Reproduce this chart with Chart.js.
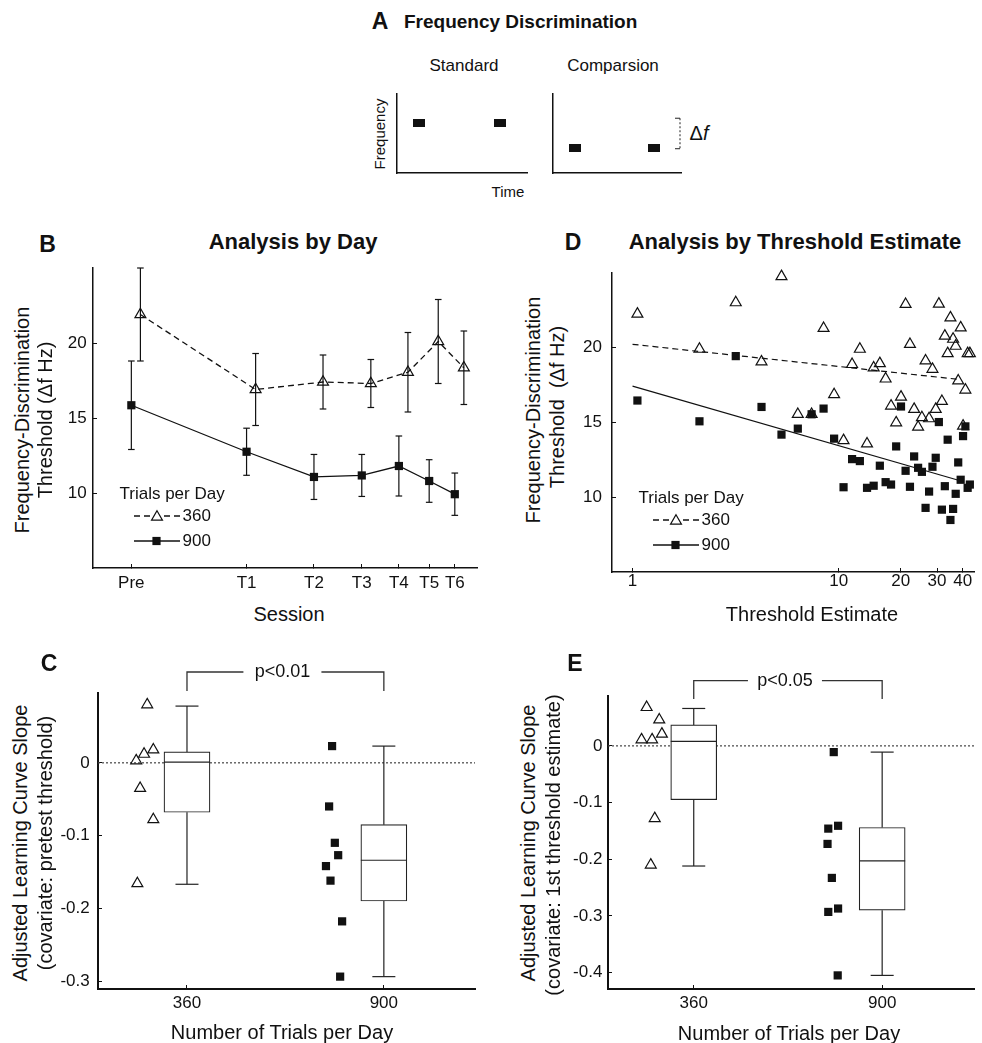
<!DOCTYPE html>
<html>
<head>
<meta charset="utf-8">
<script src="https://cdn.jsdelivr.net/npm/chart.js@4.4.1/dist/chart.umd.min.js"></script>
<style>
  body { margin: 0; background: #fff; }
  #fig { position: relative; width: 982px; height: 1043px; overflow: hidden;
         font-family: "Liberation Sans", Arial, Helvetica, sans-serif; color: #111; }
  #fig canvas { position: absolute; }
  .t { position: absolute; white-space: nowrap; line-height: 1; transform: translate(-50%, -50%); }
  .l { transform: translate(0, -50%); }
  .rot { transform: translate(-50%, -50%) rotate(-90deg); }
  .b { font-weight: bold; }
</style>
</head>
<body>
<div id="fig"></div>
<script>
// ---- data ----
// A: schematic of the task
var toneTimes = [1.7, 7.9];
var standardFreq = 6.3;
var comparisonFreq = 3.2;

// B: analysis by day
var sessionLabels = ['Pre', 'T1', 'T2', 'T3', 'T4', 'T5', 'T6'];
var sessionPos = [1, 2, 3, 4, 5, 6, 7];
var mean360 = [21.9, 16.9, 17.4, 17.3, 18.05, 20.1, 18.35];
var sem360 = [3.1, 2.4, 1.8, 1.6, 2.65, 2.8, 2.45];
var mean900 = [15.85, 12.75, 11.07, 11.17, 11.8, 10.8, 9.92];
var sem900 = [2.95, 1.57, 1.5, 1.4, 2.0, 1.42, 1.41];
var thresholdTicks = [10, 15, 20];

// D: analysis by threshold estimate
var estimateIndex = [1, 2, 3, 4, 5, 6, 7, 8, 9, 10, 11, 12, 13, 14, 15, 16, 17, 18, 19, 20,
  21, 22, 23, 24, 25, 26, 27, 28, 29, 30, 31, 32, 33, 34, 35, 36, 37, 38, 39, 40, 41];
var thr360 = [22.26, 19.91, 23.02, 19.06, 24.77, 15.55, 15.55, 21.3, 16.87, 13.8,
  18.89, 19.91, 13.58, 18.66, 18.95, 17.92, 16.11, 14.99, 16.71, 22.91,
  20.23, 15.89, 14.7, 15.33, 19.13, 15.26, 18.57, 15.89, 22.93, 16.42,
  20.79, 19.62, 22.01, 20.58, 20.11, 17.79, 21.34, 14.77, 17.18, 19.62, 19.62];
var thr900 = [16.47, 15.08, 19.44, 16.04, 14.19, 14.59, 15.55, 15.93, 13.92, 10.67,
  12.55, 12.42, 10.63, 10.77, 12.11, 11.01, 10.85, 13.4, 16.07, 11.77,
  10.7, 12.73, 11.97, 11.7, 9.29, 10.38, 12.04, 12.64, 15.03, 9.17,
  10.74, 13.85, 8.48, 9.22, 10.23, 12.33, 11.17, 14.09, 14.74, 10.63, 10.85];
var fitEnds = [1, 38.5];
var fit360 = [20.23, 17.88];
var fit900 = [17.43, 11.12];
var estimateTicks = [1, 10, 20, 30, 40];

// C / E: adjusted slopes
var trialGroups = ['360', '900'];
var groupPos = [1, 2];
var c360x = [0.798, 0.829, 0.782, 0.742, 0.762, 0.829, 0.748];
var c360y = [0.080, 0.018, 0.012, 0.003, -0.035, -0.078, -0.166];
var c900x = [1.737, 1.722, 1.751, 1.768, 1.706, 1.729, 1.788, 1.778];
var c900y = [0.023, -0.060, -0.110, -0.127, -0.142, -0.162, -0.218, -0.294];
var cQ1 = [-0.068, -0.190];
var cMed = [0.001, -0.134];
var cQ3 = [0.015, -0.085];
var cLo = [-0.167, -0.294];
var cHi = [0.078, 0.023];
var cTicks = [0, -0.1, -0.2, -0.3];
var cP = 'p<0.01';

var e360x = [0.750, 0.817, 0.831, 0.723, 0.779, 0.793, 0.772];
var e360y = [0.068, 0.046, 0.021, 0.011, 0.011, -0.128, -0.210];
var e900x = [1.743, 1.714, 1.766, 1.710, 1.733, 1.766, 1.714, 1.764];
var e900y = [-0.011, -0.146, -0.141, -0.173, -0.233, -0.287, -0.293, -0.405];
var eQ1 = [-0.095, -0.290];
var eMed = [0.008, -0.203];
var eQ3 = [0.037, -0.144];
var eLo = [-0.212, -0.405];
var eHi = [0.066, -0.011];
var eTicks = [0, -0.1, -0.2, -0.3, -0.4];
var eP = 'p<0.05';

// small horizontal nudge so the marker groups don't sit on the tick exactly
var markOffset = 1.056;
var SQ = 5.8, TRI = 6.3;

Chart.defaults.font.family = '"Liberation Sans", Arial, Helvetica, sans-serif';
Chart.defaults.font.size = 17;
Chart.defaults.color = '#111';

var fig = document.getElementById('fig');
var FONT = '"Liberation Sans", Arial, Helvetica, sans-serif';

function addText(html, x, y, size, cls) {
  var d = document.createElement('div');
  d.className = 't' + (cls ? ' ' + cls : '');
  d.style.left = x + 'px';
  d.style.top = y + 'px';
  d.style.fontSize = size + 'px';
  d.innerHTML = html;
  fig.appendChild(d);
}

// area = plot area on the page, m = room around it for ticks / extras
function makeCanvas(area, m) {
  var c = document.createElement('canvas');
  var w = area.r - area.l + m.l + m.r, h = area.b - area.t + m.t + m.b;
  c.width = w; c.height = h;
  c.style.left = (area.l - m.l) + 'px';
  c.style.top = (area.t - m.t) + 'px';
  c.style.width = w + 'px';
  c.style.height = h + 'px';
  fig.appendChild(c);
  return c;
}

function fixY(w) { return function (s) { s.width = w; s.paddingTop = 0; s.paddingBottom = 0; }; }
function fixX(h) { return function (s) { s.height = h; s.paddingLeft = 0; s.paddingRight = 0; }; }
function setTicks(list) { return function (s) { s.ticks = list.map(function (v) { return { value: v }; }); }; }

function axis(extra, pad, bw) {
  var o = {
    border: { display: true, color: '#111', width: bw },
    grid: { display: true, drawOnChartArea: false, drawTicks: true, tickLength: -4, color: '#111', lineWidth: 1 },
    ticks: { padding: pad, autoSkip: false, maxRotation: 0, minRotation: 0, color: '#111', font: { size: 17 } }
  };
  for (var k in extra) o[k] = extra[k];
  return o;
}

var baseOpts = {
  responsive: false, animation: false, events: [],
  plugins: { legend: { display: false }, tooltip: { enabled: false } }
};
function opts(padding, scales) {
  var o = JSON.parse(JSON.stringify(baseOpts));
  o.layout = { padding: padding };
  o.scales = scales;
  return o;
}

function line(ctx, x1, y1, x2, y2) {
  ctx.beginPath(); ctx.moveTo(x1, y1); ctx.lineTo(x2, y2); ctx.stroke();
}

// ---------- panel A ----------
var toneMark = document.createElement('canvas');
toneMark.width = 12; toneMark.height = 8;
var tg = toneMark.getContext('2d');
tg.fillStyle = '#111'; tg.fillRect(0, 0, 12, 8);

function toneChart(area, freq, extraPlugins) {
  var m = { l: 2, t: 2, r: 2, b: 2 };
  var cv = makeCanvas(area, m);
  new Chart(cv, {
    type: 'scatter',
    data: { datasets: [{
      data: toneTimes.map(function (t) { return { x: t, y: freq }; }),
      pointStyle: toneMark, pointRadius: 6
    }] },
    options: opts({ left: 0, top: m.t, right: m.r, bottom: 0 }, {
      x: { type: 'linear', min: 0, max: 10, border: { display: true, color: '#111', width: 1.5 },
           grid: { display: false }, ticks: { display: false }, afterFit: fixX(m.b) },
      y: { type: 'linear', min: 0, max: 10, border: { display: true, color: '#111', width: 1.5 },
           grid: { display: false }, ticks: { display: false }, afterFit: fixY(m.l) }
    }),
    plugins: extraPlugins || []
  });
}

var deltaBracket = {
  id: 'deltaBracket',
  afterDatasetsDraw: function (chart) {
    var ctx = chart.ctx, ys = chart.scales.y, a = chart.chartArea;
    var x = a.right - 1;
    var y1 = ys.getPixelForValue(standardFreq) - 5, y2 = ys.getPixelForValue(comparisonFreq) + 1;
    ctx.save();
    ctx.strokeStyle = '#222'; ctx.lineWidth = 1;
    ctx.setLineDash([2, 2]);
    line(ctx, x, y1, x, y2);
    ctx.setLineDash([]);
    line(ctx, x - 5, y1, x, y1);
    line(ctx, x - 5, y2, x, y2);
    ctx.restore();
  }
};

toneChart({ l: 392, t: 89, r: 532, b: 178 }, standardFreq);
toneChart({ l: 548, t: 89, r: 686, b: 178 }, comparisonFreq, [deltaBracket]);

// ---------- legend used by B and D ----------
function drawTrialLegend(chart) {
  var ctx = chart.ctx, a = chart.chartArea;
  var x0 = a.left, yb = a.bottom;
  ctx.save();
  ctx.font = '17px ' + FONT;
  ctx.fillStyle = '#111';
  ctx.textBaseline = 'middle';
  ctx.textAlign = 'left';
  ctx.fillText('Trials per Day', x0 + 26.5, yb - 74);
  ctx.strokeStyle = '#111';
  ctx.lineWidth = 1.3;
  var r1 = yb - 52, r2 = yb - 27;
  ctx.setLineDash([6, 4]);
  line(ctx, x0 + 41, r1, x0 + 87, r1);
  ctx.setLineDash([]);
  line(ctx, x0 + 41, r2, x0 + 87, r2);
  ctx.fillStyle = '#fff';
  ctx.lineWidth = 1.2;
  Chart.helpers.drawPoint(ctx, { pointStyle: 'triangle', radius: TRI, borderWidth: 1.2 }, x0 + 64, r1 + 1);
  ctx.fillStyle = '#111';
  Chart.helpers.drawPoint(ctx, { pointStyle: 'rect', radius: SQ, borderWidth: 0 }, x0 + 63.5, r2);
  ctx.fillText('360', x0 + 89.5, r1);
  ctx.fillText('900', x0 + 89.5, r2);
  ctx.restore();
}
var legendPlugin = { id: 'trialLegend', afterDraw: drawTrialLegend };

// ---------- panel B ----------
(function () {
  var area = { l: 93, t: 268, r: 477, b: 568 };
  var m = { l: 40, t: 10, r: 8, b: 35 };
  var cv = makeCanvas(area, m);
  var errorBars = {
    id: 'errorBars',
    beforeDatasetsDraw: function (chart) {
      var ctx = chart.ctx, xs = chart.scales.x, ys = chart.scales.y, a = chart.chartArea;
      ctx.save();
      ctx.beginPath(); ctx.rect(a.left, a.top - 1, a.right - a.left, a.bottom - a.top + 1); ctx.clip();
      ctx.strokeStyle = '#111'; ctx.lineWidth = 1.2;
      [[mean360, sem360, markOffset], [mean900, sem900, 1]].forEach(function (g) {
        for (var i = 0; i < sessionPos.length; i++) {
          var px = xs.getPixelForValue(sessionPos[i] * g[2]);
          var yt = ys.getPixelForValue(g[0][i] + g[1][i]);
          var yl = ys.getPixelForValue(g[0][i] - g[1][i]);
          line(ctx, px, yt, px, yl);
          line(ctx, px - 3.3, yt, px + 3.3, yt);
          line(ctx, px - 3.3, yl, px + 3.3, yl);
        }
      });
      ctx.restore();
    }
  };
  new Chart(cv, {
    type: 'line',
    data: { datasets: [
      { data: sessionPos.map(function (s, i) { return { x: s, y: mean900[i] }; }),
        borderColor: '#111', borderWidth: 1.3, tension: 0, fill: false, clip: false,
        pointStyle: 'rect', pointRadius: SQ, pointBackgroundColor: '#111', pointBorderWidth: 0 },
      { data: sessionPos.map(function (s, i) { return { x: s * markOffset, y: mean360[i] }; }),
        borderColor: '#111', borderWidth: 1.3, borderDash: [6, 4], tension: 0, fill: false, clip: false,
        pointStyle: 'triangle', pointRadius: TRI, pointBackgroundColor: 'rgba(0,0,0,0)',
        pointBorderColor: '#111', pointBorderWidth: 1.2 }
    ] },
    options: opts({ left: 0, top: m.t, right: m.r, bottom: 0 }, {
      x: axis({ type: 'logarithmic', min: 0.794, max: 8, afterBuildTicks: setTicks(sessionPos),
                afterFit: fixX(m.b) }, 8.8, 1.5),
      y: axis({ type: 'linear', min: 5, max: 25, afterBuildTicks: setTicks(thresholdTicks),
                afterFit: fixY(m.l) }, 10.3, 1.5)
    }),
    plugins: [errorBars, legendPlugin]
  });
})();

// ---------- panel D ----------
(function () {
  var area = { l: 612, t: 273, r: 982, b: 572 };
  var m = { l: 40, t: 10, r: 0, b: 35 };
  var cv = makeCanvas(area, m);
  new Chart(cv, {
    type: 'line',
    data: { datasets: [
      { data: estimateIndex.map(function (k, i) { return { x: k * markOffset, y: thr900[i] }; }),
        showLine: false, clip: false, pointStyle: 'rect', pointRadius: SQ, pointBackgroundColor: '#111', pointBorderWidth: 0 },
      { data: estimateIndex.map(function (k, i) { return { x: k * markOffset, y: thr360[i] }; }),
        showLine: false, clip: false, pointStyle: 'triangle', pointRadius: TRI, pointBackgroundColor: 'rgba(0,0,0,0)',
        pointBorderColor: '#111', pointBorderWidth: 1.2 },
      { data: fitEnds.map(function (x, i) { return { x: x, y: fit360[i] }; }),
        borderColor: '#111', borderWidth: 1.2, borderDash: [6, 4], pointRadius: 0 },
      { data: fitEnds.map(function (x, i) { return { x: x, y: fit900[i] }; }),
        borderColor: '#111', borderWidth: 1.2, pointRadius: 0 }
    ] },
    options: opts({ left: 0, top: m.t, right: m.r, bottom: 0 }, {
      x: axis({ type: 'logarithmic', min: 0.795, max: 45.6, afterBuildTicks: setTicks(estimateTicks),
                afterFit: fixX(m.b) }, 2.8, 1.5),
      y: axis({ type: 'linear', min: 5, max: 25, afterBuildTicks: setTicks(thresholdTicks),
                afterFit: fixY(m.l) }, 14, 1.5)
    }),
    plugins: [legendPlugin]
  });
})();

// tick label callbacks need functions, so set them after the JSON copy
Chart.helpers.each(Chart.instances, function (ch) {
  var x = ch.options.scales.x;
  if (x.type === 'logarithmic' && x.max === 8) {
    x.ticks.callback = function (v, i) { return sessionLabels[i]; };
  } else if (x.type === 'logarithmic') {
    x.ticks.callback = function (v) { return String(v); };
  }
  if (ch.options.scales.y.min === 5) {
    ch.options.scales.y.ticks.callback = function (v) { return String(v); };
  }
  ch.update();
});

// ---------- panels C and E ----------
function boxChart(cfg) {
  var m = { l: 50, t: 40, r: cfg.area.r >= 982 ? 0 : 8, b: 35 };
  var cv = makeCanvas(cfg.area, m);
  var extras = {
    id: 'boxExtras',
    beforeDatasetsDraw: function (chart) {
      var ctx = chart.ctx, ys = chart.scales.y, a = chart.chartArea;
      var y0 = ys.getPixelForValue(0);
      ctx.save();
      ctx.strokeStyle = '#444'; ctx.lineWidth = 1.2; ctx.setLineDash([2, 2]);
      line(ctx, a.left, y0, a.right, y0);
      ctx.restore();
    },
    afterDatasetsDraw: function (chart) {
      var ctx = chart.ctx, xs = chart.scales.x, ys = chart.scales.y, a = chart.chartArea;
      ctx.save();
      ctx.strokeStyle = '#222'; ctx.lineWidth = 1.2;
      for (var i = 0; i < groupPos.length; i++) {
        var px = xs.getPixelForValue(groupPos[i]);
        var q1 = ys.getPixelForValue(cfg.q1[i]), q3 = ys.getPixelForValue(cfg.q3[i]);
        var lo = ys.getPixelForValue(cfg.lo[i]), hi = ys.getPixelForValue(cfg.hi[i]);
        var md = ys.getPixelForValue(cfg.med[i]);
        line(ctx, px - 23, md, px + 23, md);
        line(ctx, px, q3, px, hi);
        line(ctx, px, q1, px, lo);
        line(ctx, px - 11.5, hi, px + 11.5, hi);
        line(ctx, px - 11.5, lo, px + 11.5, lo);
      }
      // significance bracket
      var xa = xs.getPixelForValue(groupPos[0]), xb = xs.getPixelForValue(groupPos[1]);
      var yBr = a.top - cfg.brUp, yEnd = yBr + cfg.brDrop, mid = (xa + xb) / 2 - 1;
      ctx.strokeStyle = '#333'; ctx.lineWidth = 1.3;
      ctx.beginPath();
      ctx.moveTo(xa, yEnd); ctx.lineTo(xa, yBr); ctx.lineTo(mid - cfg.gap, yBr);
      ctx.moveTo(mid + cfg.gap - 4, yBr); ctx.lineTo(xb, yBr); ctx.lineTo(xb, yEnd);
      ctx.stroke();
      ctx.font = '18px ' + FONT;
      ctx.fillStyle = '#111'; ctx.textAlign = 'center'; ctx.textBaseline = 'middle';
      ctx.fillText(cfg.p, mid - 2, yBr);
      ctx.restore();
    }
  };
  new Chart(cv, {
    type: 'bar',
    data: { datasets: [
      { type: 'scatter', clip: false, data: cfg.x900.map(function (x, i) { return { x: x, y: cfg.y900[i] }; }),
        pointStyle: 'rect', pointRadius: SQ, pointBackgroundColor: '#111', pointBorderWidth: 0 },
      { type: 'scatter', clip: false, data: cfg.x360.map(function (x, i) { return { x: x, y: cfg.y360[i] }; }),
        pointStyle: 'triangle', pointRadius: TRI, pointBackgroundColor: 'rgba(0,0,0,0)',
        pointBorderColor: '#111', pointBorderWidth: 1.2 },
      { type: 'bar', data: groupPos.map(function (g, i) { return { x: g, y: [cfg.q1[i], cfg.q3[i]] }; }),
        backgroundColor: '#fff', borderColor: '#222', borderWidth: 1.2, borderSkipped: false,
        barThickness: 46 }
    ] },
    options: (function () {
      var o = opts({ left: 0, top: m.t, right: m.r, bottom: 0 }, {
        x: axis({ type: 'linear', min: cfg.xmin, max: cfg.xmax, offset: false,
                  afterBuildTicks: setTicks(groupPos), afterFit: fixX(m.b) }, 7.8, 2),
        y: axis({ type: 'linear', min: cfg.ymin, max: cfg.ymax, beginAtZero: false,
                  afterBuildTicks: setTicks(cfg.ticks), afterFit: fixY(m.l) }, cfg.ypad, 2)
      });
      o.scales.x.grid.offset = false;
      o.scales.x.ticks.callback = function (v, i) { return trialGroups[i]; };
      o.scales.y.ticks.callback = function (v) { return Math.abs(v) < 1e-9 ? '0' : v.toFixed(1); };
      return o;
    })(),
    plugins: [extras]
  });
}

boxChart({ area: { l: 98, t: 693, r: 475, b: 989 }, xmin: 0.548, xmax: 2.463, ymin: -0.311, ymax: 0.096,
  ticks: cTicks, ypad: 12.3, x360: c360x, y360: c360y, x900: c900x, y900: c900y,
  q1: cQ1, med: cMed, q3: cQ3, lo: cLo, hi: cHi, p: cP, brUp: 21, brDrop: 19, gap: 41 });
boxChart({ area: { l: 608, t: 696, r: 982, b: 989 }, xmin: 0.545, xmax: 2.49, ymin: -0.429, ymax: 0.088,
  ticks: eTicks, ypad: 9.6, x360: e360x, y360: e360y, x900: e900x, y900: e900y,
  q1: eQ1, med: eMed, q3: eQ3, lo: eLo, hi: eHi, p: eP, brUp: 15.3, brDrop: 18.3, gap: 39 });

// ---------- text ----------
addText('A', 380, 21, 23, 'b');
addText('Frequency Discrimination', 404, 21, 19, 'b l');
addText('Standard', 464, 65, 17);
addText('Comparsion', 613, 65, 17);
addText('Frequency', 379, 134, 15, 'rot');
addText('Time', 508, 191, 15);
addText('&Delta;<i>f</i>', 699, 133, 20);

addText('B', 47.5, 243.5, 23, 'b');
addText('Analysis by Day', 293, 242, 22, 'b');
addText('Frequency-Discrimination', 22, 420, 20, 'rot');
addText('Threshold (&Delta;f Hz)', 45, 420, 20, 'rot');
addText('Session', 289, 614, 20);

addText('D', 573, 242, 23, 'b');
addText('Analysis by Threshold Estimate', 795, 242, 22, 'b');
addText('Frequency-Discrimination', 533, 410, 20, 'rot');
addText('Threshold&nbsp; (&Delta;f Hz)', 557, 407, 20, 'rot');
addText('Threshold Estimate', 812, 614, 20);

addText('C', 49, 663, 23, 'b');
addText('Adjusted Learning Curve Slope', 20, 843, 20, 'rot');
addText('(covariate: pretest threshold)', 45, 843, 20, 'rot');
addText('Number of Trials per Day', 282, 1032, 20);

addText('E', 575, 663, 23, 'b');
addText('Adjusted Learning Curve Slope', 528, 843, 20, 'rot');
addText('(covariate: 1st threshold estimate)', 553, 845, 20, 'rot');
addText('Number of Trials per Day', 789, 1033, 20);
</script>
</body>
</html>
